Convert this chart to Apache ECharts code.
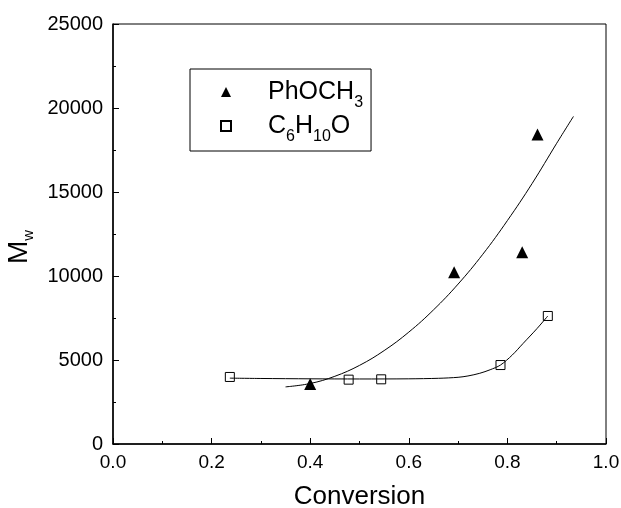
<!DOCTYPE html>
<html>
<head>
<meta charset="utf-8">
<script src="https://cdn.jsdelivr.net/npm/echarts@6/dist/echarts.min.js"></script>
<style>
  html, body { margin: 0; padding: 0; background: #fff; }
  #chart-container { width: 621px; height: 508px; }
</style>
</head>
<body>
<div id="chart-container"></div>
<script>
// measured points
let convPh = [0.400, 0.692, 0.830, 0.861];
let mwPh = [3570, 10220, 11410, 18430];
let convCy = [0.237, 0.478, 0.544, 0.786, 0.882];
let mwCy = [3990, 3830, 3850, 4700, 7620];

// fitted curves
let fitPhX = [0.35, 0.40, 0.45, 0.50, 0.55, 0.60, 0.65, 0.70, 0.75, 0.80, 0.85, 0.90, 0.934];
let fitPhY = [3400, 3600, 4030, 4680, 5560, 6660, 7980, 9520, 11290, 13300, 15500, 17900, 19500];
let fitCyX = [0.237, 0.30, 0.40, 0.50, 0.60, 0.66, 0.70, 0.72, 0.744, 0.765, 0.786, 0.81, 0.832, 0.86, 0.882];
let fitCyY = [3920, 3900, 3880, 3870, 3880, 3910, 3970, 4050, 4210, 4420, 4700, 5300, 5990, 6870, 7620];

let xTicks = [0, 0.2, 0.4, 0.6, 0.8, 1.0];
let yTicks = [0, 5000, 10000, 15000, 20000, 25000];

let font = "Liberation Sans, Arial, sans-serif";
let pairs = (xs, ys) => xs.map((x, i) => [x, ys[i]]);

let dom = document.getElementById("chart-container");
let myChart = echarts.init(dom, null, { renderer: "canvas" });

let option = {
    backgroundColor: "#fff",
    animation: false,
    grid: {
        left: 113,
        right: 15,
        top: 24,
        bottom: 64,
        show: true,
        borderColor: "#000",
        borderWidth: 1,
        outerBoundsMode: "none",
    },
    legend: {
        orient: "vertical",
        left: 190,
        top: 69,
        padding: [4, 8, 6, 30],
        itemGap: -4,
        itemWidth: 10,
        itemHeight: 10,
        borderColor: "#000",
        borderWidth: 1,
        data: ["PhOCH3", "C6H10O"],
        formatter: function (name) {
            if (name === "PhOCH3") return "{sp|}{m|PhOCH}{s|3}";
            return "{sp|}{m|C}{s|6}{m|H}{s|10}{m|O}";
        },
        textStyle: {
            color: "#000",
            rich: {
                sp: { width: 32 },
                m: { fontSize: 25, lineHeight: 30, fontFamily: font, color: "#000" },
                s: { fontSize: 16, lineHeight: 30, padding: [22, 0, 0, 0], fontFamily: font, color: "#000" },
            },
        },
    },
    xAxis: {
        type: "value",
        min: 0,
        max: 1,
        interval: 0.2,
        name: "Conversion",
        nameLocation: "middle",
        nameGap: 40,
        nameTextStyle: { fontSize: 26, fontFamily: font, color: "#000" },
        axisLine: { lineStyle: { color: "#000", width: 1.5 } },
        axisTick: { inside: true, length: 6, lineStyle: { color: "#000" } },
        minorTick: { show: true, splitNumber: 2, length: 3, lineStyle: { color: "#000" } },
        splitLine: { show: false },
        axisLabel: {
            margin: 9,
            fontSize: 19,
            fontFamily: font,
            color: "#000",
            formatter: (v) => v.toFixed(1),
        },
    },
    yAxis: {
        type: "value",
        min: 0,
        max: 25000,
        interval: 5000,
        name: "{m|M}{w|w}{sp|}",
        nameLocation: "middle",
        nameGap: 76,
        nameTextStyle: {
            color: "#000",
            rich: {
                m: { fontSize: 28, lineHeight: 30, fontFamily: font, color: "#000" },
                w: { fontSize: 15, lineHeight: 30, padding: [20, 0, 0, 0], fontFamily: font, color: "#000" },
                sp: { width: 26 },
            },
        },
        axisLine: { show: true, lineStyle: { color: "#000", width: 1.5 } },
        axisTick: { show: true, inside: true, length: 6, lineStyle: { color: "#000" } },
        minorTick: { show: true, splitNumber: 2, length: 3, lineStyle: { color: "#000" } },
        splitLine: { show: false },
        axisLabel: {
            margin: 10,
            fontSize: 20,
            fontFamily: font,
            color: "#000",
            formatter: (v) => String(v),
        },
    },
    series: [
        {
            name: "PhOCH3 fit",
            type: "line",
            smooth: 0.4,
            showSymbol: false,
            data: pairs(fitPhX, fitPhY),
            lineStyle: { color: "#000", width: 1 },
            itemStyle: { color: "#000" },
            z: 2,
        },
        {
            name: "C6H10O fit",
            type: "line",
            smooth: 0.3,
            showSymbol: false,
            data: pairs(fitCyX, fitCyY),
            lineStyle: { color: "#000", width: 1 },
            itemStyle: { color: "#000" },
            z: 2,
        },
        {
            name: "PhOCH3",
            type: "scatter",
            symbol: "triangle",
            symbolSize: 12,
            data: pairs(convPh, mwPh),
            itemStyle: { color: "#000", opacity: 1 },
            z: 3,
        },
        {
            name: "C6H10O",
            type: "scatter",
            symbol: "rect",
            symbolSize: 9,
            data: pairs(convCy, mwCy),
            itemStyle: { color: "rgba(0,0,0,0)", borderColor: "#000", borderWidth: 1, opacity: 1 },
            z: 3,
        },
    ],
};

if (option && typeof option === "object") {
    myChart.setOption(option);
}

window.addEventListener("resize", myChart.resize);
</script>
</body>
</html>
